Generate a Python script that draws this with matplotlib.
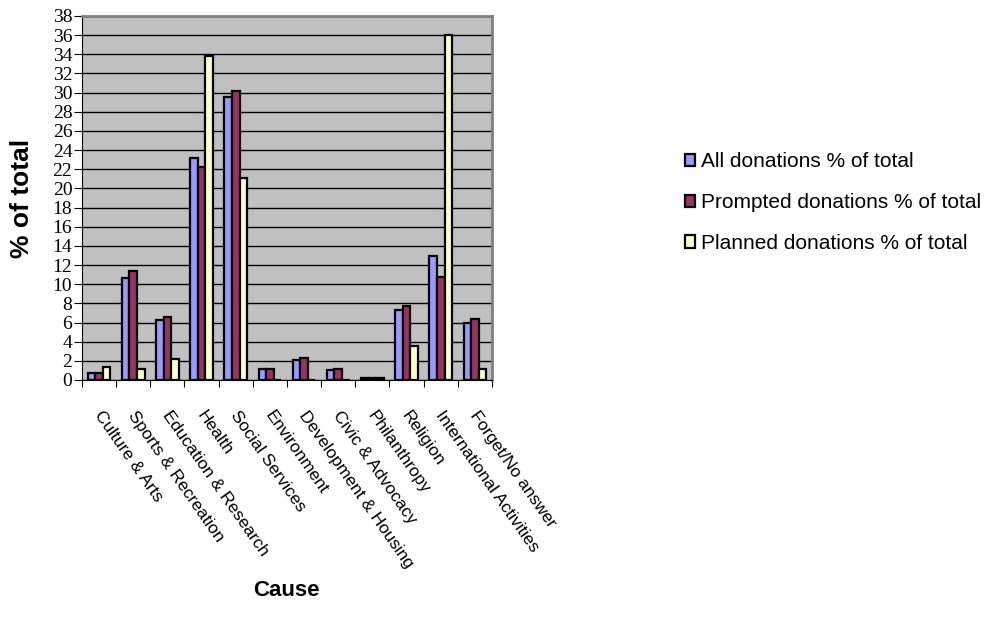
import matplotlib
matplotlib.use("Agg")
import matplotlib.pyplot as plt
import numpy as np

categories = ["Culture & Arts", "Sports & Recreation", "Education & Research", "Health",
              "Social Services", "Environment", "Development & Housing", "Civic & Advocacy",
              "Philanthropy", "Religion", "International Activities", "Forget/No answer"]
all_donations = [0.7, 10.6, 6.3, 23.2, 29.5, 1.1, 2.1, 1.0, 0.2, 7.3, 12.9, 6.0]
prompted_donations = [0.7, 11.4, 6.6, 22.2, 30.2, 1.2, 2.3, 1.1, 0.2, 7.7, 10.8, 6.4]
planned_donations = [1.4, 1.2, 2.2, 33.8, 21.1, 0.0, 0.0, 0.0, 0.2, 3.5, 36.0, 1.1]
series_names = ["All donations % of total", "Prompted donations % of total",
                "Planned donations % of total"]
colors = ["#9999FF", "#993366", "#FFFFCC"]
y_ticks = list(range(0, 39, 2))

sans = ["Liberation Sans", "DejaVu Sans"]
serif = ["Liberation Serif", "DejaVu Serif"]

fig = plt.figure(figsize=(9.87, 6.26), dpi=100)
ax = fig.add_axes([82 / 987, 1 - 380 / 626, 410 / 987, 364 / 626])
ax.set_facecolor("#C0C0C0")

n = len(categories)
x = np.arange(n)
w = 1 / 4.5
series = [all_donations, prompted_donations, planned_donations]
handles = []
for i, (vals, c, name) in enumerate(zip(series, colors, series_names)):
    b = ax.bar(x + (i - 1) * w, vals, width=w, color=c, edgecolor="black",
               linewidth=1.6, label=name, zorder=3)
    handles.append(b)

ax.set_xlim(-0.5, n - 0.5)
ax.set_ylim(0, 38)
ax.set_yticks(y_ticks)
ax.set_yticklabels([str(t) for t in y_ticks], fontfamily=serif, fontsize=14)
ax.yaxis.grid(True, color="black", linewidth=1.0, zorder=1)
ax.set_axisbelow(True)

# category boundaries carry the tick marks; labels sit at centers
ax.set_xticks(np.arange(-0.5, n, 1.0))
ax.set_xticklabels([])
ax.tick_params(axis="x", length=5, width=0.8, color="black")
ax.tick_params(axis="y", length=6, width=0.8, color="black", pad=1)
for xi, lab in zip(x, categories):
    ax.text(xi - 0.05, -3.4, lab, rotation=-55, rotation_mode="anchor", ha="left",
            va="center", fontfamily=sans, fontsize=12.5, transform=ax.transData,
            clip_on=False)

for side in ["top", "right"]:
    ax.spines[side].set_color("#808080")
    ax.spines[side].set_linewidth(2)
ax.spines["left"].set_color("black")
ax.spines["bottom"].set_color("black")

fig.text(22 / 987, 1 - 198 / 626, "% of total", rotation=90, ha="center", va="center",
         fontfamily=sans, fontsize=19, fontweight="bold")
fig.text(286 / 987, 1 - 590 / 626, "Cause", ha="center", va="center",
         fontfamily=sans, fontsize=16, fontweight="bold")

leg = fig.legend(handles=handles, labels=series_names, loc="upper left",
                 bbox_to_anchor=(677 / 987, 1 - 144 / 626), frameon=False,
                 prop={"family": sans, "size": 15}, handlelength=0.45, handleheight=0.55,
                 handletextpad=0.3, labelspacing=1.05, borderaxespad=0)

fig.savefig("out.png", dpi=100)
